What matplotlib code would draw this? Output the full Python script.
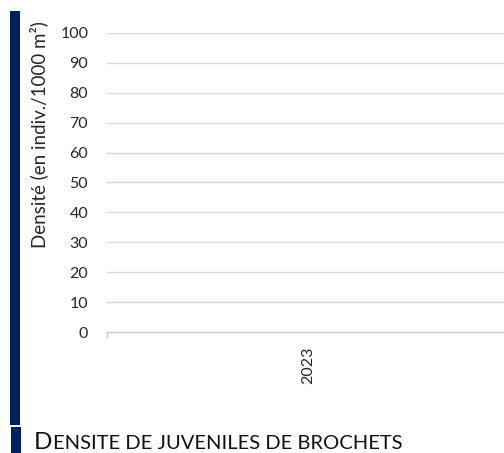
import matplotlib.pyplot as plt
from matplotlib.patches import Rectangle

# data (no value shown for 2023)
years = ["2023"]
densite = [0]
yticks = [0, 10, 20, 30, 40, 50, 60, 70, 80, 90, 100]

W, H = 504, 453
plt.rcParams['font.family'] = ['Lato', 'DejaVu Sans']
fig = plt.figure(figsize=(W / 100, H / 100), dpi=100)

# axes in pixel coords: x 107..509, y 33 (100) .. 332 (0)
x0, x1, ytop, ybot = 107, 509, 33, 332
ax = fig.add_axes([x0 / W, 1 - ybot / H, (x1 - x0) / W, (ybot - ytop) / H])

ax.bar(range(len(years)), densite, width=0.6, color="#1f3864")
ax.set_xlim(-0.5, len(years) - 0.5)
ax.set_ylim(0, 100)
ax.set_yticks(yticks)
ax.set_yticklabels([str(t) for t in yticks], fontsize=11.5, color="#262626")
ax.set_xticks(range(len(years)))
ax.set_xticklabels(years, rotation=90, fontsize=11.5, color="#262626")
ax.tick_params(axis='y', length=0, pad=13.5)
ax.tick_params(axis='x', length=0, pad=10.5)
ax.grid(axis='y', color="#d9d9d9", linewidth=1)
ax.set_axisbelow(True)
for s in ['top', 'right', 'left']:
    ax.spines[s].set_visible(False)
ax.spines['bottom'].set_color("#c8c8c8")
# small category tick at left edge
ax.plot([-0.5, -0.5], [0, -1.6], color="#c8c8c8", linewidth=1, clip_on=False)

fig.text(39 / W, 1 - 135 / H, "Densité (en indiv./1000 m²)", rotation=90,
         ha='center', va='center', fontsize=13.5, color="#262626")

# dark blue band on the left
fig.add_artist(Rectangle((10 / W, 1 - 425 / H), 10 / W, (425 - 11) / H,
                         transform=fig.transFigure, color="#002060", lw=0))
fig.add_artist(Rectangle((11 / W, 0), 10 / W, (H - 427) / H,
                         transform=fig.transFigure, color="#002060", lw=0))

# title in small caps at the bottom
r = fig.canvas.get_renderer()
t1 = fig.text(34 / W, 1 - 449 / H, "D", fontsize=17.5, color="#111111", va='baseline')
bb = t1.get_window_extent(renderer=r)
fig.text(bb.x1 / W + 0.5 / W, 1 - 449 / H, "ENSITE DE JUVENILES DE BROCHETS",
         fontsize=14.5, color="#111111", va='baseline')

fig.savefig("out.png", dpi=100)
